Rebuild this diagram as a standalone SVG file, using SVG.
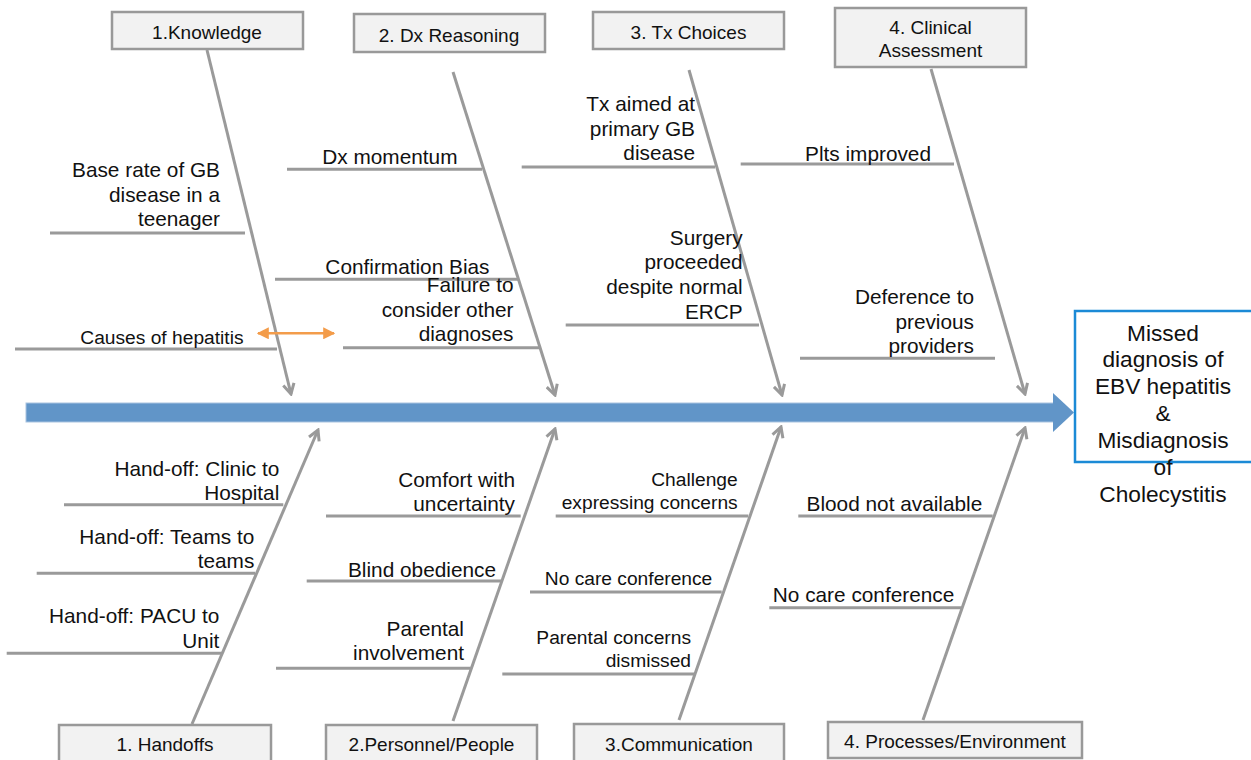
<svg xmlns="http://www.w3.org/2000/svg" width="1251" height="760" viewBox="0 0 1251 760">
<defs>
<style>
text{font-family:"Liberation Sans",Arial,sans-serif;fill:#111}
.lbl{font-size:20.8px;text-anchor:end}
.sm{font-size:19.2px;text-anchor:end}
.box rect{fill:#f2f2f2;stroke:#999;stroke-width:2.5}
.box text{font-size:19px;text-anchor:middle}
.bone{stroke:#9a9a9a;stroke-width:3;fill:none;marker-end:url(#chev)}
.sub{stroke:#9a9a9a;stroke-width:3;fill:none}
.eff text{font-size:22.7px;text-anchor:middle}
</style>
<marker id="chev" viewBox="0 0 14 14" refX="12" refY="7" markerWidth="14" markerHeight="14" orient="auto" markerUnits="userSpaceOnUse">
<path d="M2,1.5 L12,7 L2,12.5" fill="none" stroke="#9a9a9a" stroke-width="3" stroke-linejoin="miter"/>
</marker>
<marker id="oarr" viewBox="0 0 10 10" refX="9" refY="5" markerWidth="12" markerHeight="12" orient="auto-start-reverse" markerUnits="userSpaceOnUse">
<path d="M0,0 L10,5 L0,10 Z" fill="#f39c4a"/>
</marker>
</defs>

<!-- spine -->
<g id="spine">
<rect x="26" y="403" width="1028" height="19" fill="#6195c8" stroke="#a9c3e0" stroke-width="1"/>
<path d="M1053,393 L1074,412.5 L1053,432 Z" fill="#6195c8"/>
</g>

<!-- effect -->
<g id="effect" class="eff">
<rect x="1075" y="311" width="185" height="151" fill="#fff" stroke="#1b8ad6" stroke-width="2.5"/>
<text x="1163" y="341">Missed</text>
<text x="1163" y="367">diagnosis of</text>
<text x="1163" y="394">EBV hepatitis</text>
<text x="1163" y="421">&amp;</text>
<text x="1163" y="448">Misdiagnosis</text>
<text x="1163" y="475">of</text>
<text x="1163" y="502">Cholecystitis</text>
</g>

<!-- connectors -->
<g id="connectors">
<line class="bone" x1="207" y1="50" x2="291" y2="394"/>
<line class="bone" x1="453" y1="72" x2="555" y2="395"/>
<line class="bone" x1="689" y1="70" x2="782" y2="395"/>
<line class="bone" x1="931" y1="69" x2="1025" y2="394"/>
<line class="bone" x1="192" y1="724" x2="318" y2="430"/>
<line class="bone" x1="453" y1="721" x2="555" y2="429"/>
<line class="bone" x1="679" y1="720" x2="781" y2="427"/>
<line class="bone" x1="923" y1="720" x2="1025" y2="428"/>
<line x1="258" y1="333.3" x2="334" y2="333.3" stroke="#f39c4a" stroke-width="2.5" marker-start="url(#oarr)" marker-end="url(#oarr)"/>
</g>

<!-- category boxes -->
<g id="cat-knowledge" class="box"><rect x="112" y="12" width="191" height="37"/><text x="207" y="39">1.Knowledge</text></g>
<g id="cat-dx" class="box"><rect x="354" y="14" width="191" height="38"/><text x="449" y="41.5">2. Dx Reasoning</text></g>
<g id="cat-tx" class="box"><rect x="593" y="12" width="191" height="37"/><text x="688.5" y="39">3. Tx Choices</text></g>
<g id="cat-clinical" class="box"><rect x="835" y="8" width="191" height="59"/><text x="930.5" y="34">4. Clinical</text><text x="930.5" y="56.5">Assessment</text></g>
<g id="cat-handoffs" class="box"><rect x="59" y="725" width="212" height="42"/><text x="165" y="751">1. Handoffs</text></g>
<g id="cat-personnel" class="box"><rect x="326" y="725" width="211" height="42"/><text x="431.5" y="751">2.Personnel/People</text></g>
<g id="cat-comm" class="box"><rect x="574" y="724" width="210" height="42"/><text x="679" y="750.5">3.Communication</text></g>
<g id="cat-proc" class="box"><rect x="828" y="722" width="254" height="36"/><text x="955" y="748">4. Processes/Environment</text></g>

<!-- causes: Knowledge -->
<g id="c-baserate"><line class="sub" x1="50" y1="233" x2="245" y2="233"/><text class="lbl" x="220" y="177">Base rate of GB</text><text class="lbl" x="220" y="201.5">disease in a</text><text class="lbl" x="220" y="226">teenager</text></g>
<g id="c-hepatitis"><line class="sub" x1="15" y1="349" x2="277" y2="349"/><text class="sm" x="243.5" y="343.5">Causes of hepatitis</text></g>

<!-- Dx Reasoning -->
<g id="c-momentum"><line class="sub" x1="287" y1="169.3" x2="482" y2="169.3"/><text class="lbl" x="457.5" y="164">Dx momentum</text></g>
<g id="c-confirm"><line class="sub" x1="275" y1="279.3" x2="518" y2="279.3"/><text class="lbl" x="489.5" y="274">Confirmation Bias</text></g>
<g id="c-failure"><line class="sub" x1="343" y1="347.7" x2="539" y2="347.7"/><text class="lbl" x="513.5" y="292">Failure to</text><text class="lbl" x="513.5" y="316.5">consider other</text><text class="lbl" x="513.5" y="341">diagnoses</text></g>

<!-- Tx Choices -->
<g id="c-txaimed"><line class="sub" x1="521.7" y1="167" x2="715" y2="167"/><text class="lbl" x="695" y="111">Tx aimed at</text><text class="lbl" x="695" y="135.5">primary GB</text><text class="lbl" x="695" y="160">disease</text></g>
<g id="c-surgery"><line class="sub" x1="565.7" y1="325" x2="759" y2="325"/><text class="lbl" x="742.7" y="245">Surgery</text><text class="lbl" x="742.7" y="269">proceeded</text><text class="lbl" x="742.7" y="293.5">despite normal</text><text class="lbl" x="742.7" y="318.5">ERCP</text></g>

<!-- Clinical -->
<g id="c-plts"><line class="sub" x1="740.7" y1="164" x2="954" y2="164"/><text class="lbl" x="931" y="160.5">Plts improved</text></g>
<g id="c-deference"><line class="sub" x1="800" y1="358.3" x2="995" y2="358.3"/><text class="lbl" x="974" y="304">Deference to</text><text class="lbl" x="974" y="328.5">previous</text><text class="lbl" x="974" y="352.5">providers</text></g>

<!-- Handoffs -->
<g id="c-clinic"><line class="sub" x1="64" y1="504.7" x2="283.3" y2="504.7"/><text class="lbl" x="279.3" y="476">Hand-off: Clinic to</text><text class="lbl" x="279.3" y="500">Hospital</text></g>
<g id="c-teams"><line class="sub" x1="36.7" y1="573.3" x2="255" y2="573.3"/><text class="lbl" x="254.3" y="544">Hand-off: Teams to</text><text class="lbl" x="254.3" y="568.3">teams</text></g>
<g id="c-pacu"><line class="sub" x1="6.7" y1="653.3" x2="221.7" y2="653.3"/><text class="lbl" x="219.3" y="623.3">Hand-off: PACU to</text><text class="lbl" x="219.3" y="647.7">Unit</text></g>

<!-- Personnel -->
<g id="c-comfort"><line class="sub" x1="326" y1="516" x2="520.7" y2="516"/><text class="lbl" x="515" y="486.7">Comfort with</text><text class="lbl" x="515" y="510.5">uncertainty</text></g>
<g id="c-blind"><line class="sub" x1="306.7" y1="581" x2="501" y2="581"/><text class="lbl" x="496" y="576.5">Blind obedience</text></g>
<g id="c-parental"><line class="sub" x1="276" y1="668.3" x2="470.7" y2="668.3"/><text class="lbl" x="464" y="635.7">Parental</text><text class="lbl" x="464" y="660">involvement</text></g>

<!-- Communication -->
<g id="c-challenge"><line class="sub" x1="555.7" y1="516" x2="748.3" y2="516"/><text class="sm" x="737.7" y="486">Challenge</text><text class="sm" x="737.7" y="509">expressing concerns</text></g>
<g id="c-nocare1"><line class="sub" x1="530" y1="592" x2="721.7" y2="592"/><text class="sm" x="712.3" y="585">No care conference</text></g>
<g id="c-dismissed"><line class="sub" x1="502.3" y1="674" x2="694" y2="674"/><text class="sm" x="691" y="644.3">Parental concerns</text><text class="sm" x="691" y="666.7">dismissed</text></g>

<!-- Processes -->
<g id="c-blood"><line class="sub" x1="798.3" y1="516" x2="992.7" y2="516"/><text class="lbl" x="982.3" y="510.7">Blood not available</text></g>
<g id="c-nocare2"><line class="sub" x1="769.3" y1="607.7" x2="961.7" y2="607.7"/><text class="lbl" x="954.3" y="601.7">No care conference</text></g>
</svg>
